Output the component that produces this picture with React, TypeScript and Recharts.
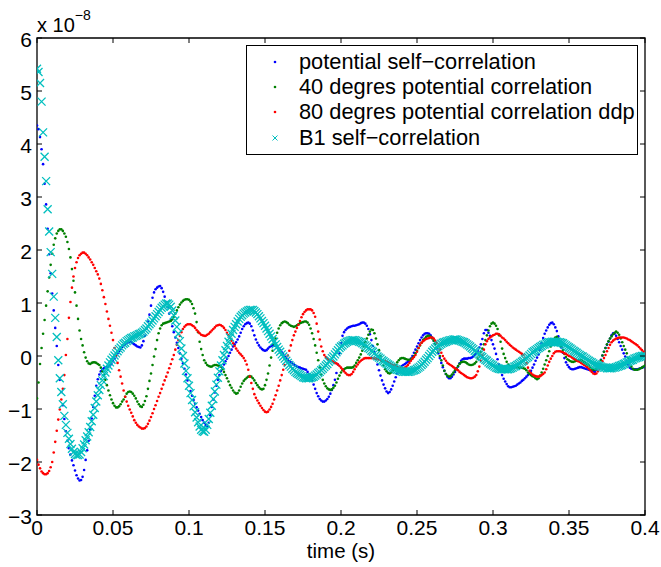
import React from "react";
import { ScatterChart, Scatter, XAxis, YAxis, Legend, ReferenceArea } from "recharts";

// sampling step of every series, in seconds
const SAMPLE_DT = 0.001;

const X_TICKS = [0, 0.05, 0.1, 0.15, 0.2, 0.25, 0.3, 0.35, 0.4];
const X_TICK_LABELS = ["0", "0.05", "0.1", "0.15", "0.2", "0.25", "0.3", "0.35", "0.4"];
const Y_TICKS = [-3, -2, -1, 0, 1, 2, 3, 4, 5, 6];
const Y_TICK_LABELS = ["\u22123", "\u22122", "\u22121", "0", "1", "2", "3", "4", "5", "6"];

const SERIES_NAMES = [
    "potential self\u2212correlation",
    "40 degres potential correlation",
    "80 degres potential correlation ddp",
    "B1 self\u2212correlation"
];
const COLORS = ["#0000ff", "#008000", "#ff0000", "#00bfbf"];

// values are in units of 1e-8, one per sample
const POTENTIAL_SELF = [
    4.35, 4.28, 4.13, 3.9, 3.62, 3.25, 2.86, 2.4, 1.92, 1.56,
    1.18, 0.86, 0.53, 0.19, -0.17, -0.45, -0.68, -0.93, -1.19, -1.42,
    -1.6, -1.74, -1.86, -1.97, -2.06, -2.16, -2.25, -2.31, -2.35, -2.34,
    -2.28, -2.15, -1.96, -1.78, -1.6, -1.39, -1.18, -0.96, -0.75, -0.56,
    -0.44, -0.35, -0.29, -0.25, -0.23, -0.22, -0.21, -0.2, -0.18, -0.15,
    -0.1, -0.05, 0, 0.05, 0.09, 0.13, 0.17, 0.2, 0.23, 0.25,
    0.26, 0.27, 0.26, 0.24, 0.22, 0.2, 0.18, 0.17, 0.16, 0.2,
    0.28, 0.38, 0.52, 0.65, 0.78, 0.95, 1.1, 1.2, 1.26, 1.29,
    1.31, 1.32, 1.28, 1.21, 1.12, 1.02, 0.92, 0.8, 0.68, 0.56,
    0.45, 0.35, 0.25, 0.15, 0.05, -0.05, -0.14, -0.24, -0.35, -0.46,
    -0.56, -0.66, -0.75, -0.83, -0.9, -0.97, -1.03, -1.09, -1.15, -1.21,
    -1.26, -1.3, -1.32, -1.26, -1.12, -0.96, -0.82, -0.69, -0.56, -0.45,
    -0.36, -0.28, -0.22, -0.16, -0.1, -0.05, 0, 0.06, 0.12, 0.18,
    0.22, 0.26, 0.31, 0.37, 0.44, 0.51, 0.56, 0.6, 0.62, 0.63,
    0.61, 0.56, 0.48, 0.39, 0.31, 0.25, 0.2, 0.16, 0.13, 0.11,
    0.1, 0.11, 0.14, 0.17, 0.19, 0.2, 0.2, 0.19, 0.17, 0.14,
    0.11, 0.07, 0.03, -0.01, -0.04, -0.07, -0.1, -0.12, -0.14, -0.16,
    -0.18, -0.2, -0.21, -0.22, -0.23, -0.24, -0.25, -0.26, -0.3, -0.35,
    -0.4, -0.46, -0.54, -0.62, -0.7, -0.76, -0.81, -0.84, -0.86, -0.86,
    -0.84, -0.81, -0.77, -0.71, -0.64, -0.55, -0.45, -0.32, -0.16, 0.05,
    0.24, 0.38, 0.45, 0.49, 0.52, 0.54, 0.55, 0.56, 0.57, 0.57,
    0.58, 0.59, 0.6, 0.62, 0.63, 0.63, 0.61, 0.57, 0.51, 0.41,
    0.3, 0.19, 0.07, -0.05, -0.16, -0.27, -0.37, -0.46, -0.54, -0.61,
    -0.67, -0.7, -0.68, -0.63, -0.56, -0.48, -0.4, -0.33, -0.28, -0.23,
    -0.19, -0.17, -0.15, -0.13, -0.11, -0.09, -0.05, 0, 0.06, 0.12,
    0.18, 0.24, 0.3, 0.35, 0.39, 0.42, 0.43, 0.43, 0.42, 0.39,
    0.35, 0.29, 0.22, 0.14, 0.05, -0.04, -0.13, -0.21, -0.28, -0.34,
    -0.39, -0.42, -0.42, -0.39, -0.35, -0.3, -0.25, -0.2, -0.14, -0.09,
    -0.06, -0.05, -0.05, -0.05, -0.04, -0.04, -0.03, -0.01, 0.02, 0.05,
    0.1, 0.16, 0.22, 0.32, 0.43, 0.49, 0.49, 0.44, 0.38, 0.3,
    0.22, 0.14, 0.04, -0.06, -0.16, -0.27, -0.36, -0.43, -0.48, -0.53,
    -0.57, -0.59, -0.59, -0.58, -0.57, -0.56, -0.54, -0.52, -0.5, -0.47,
    -0.45, -0.42, -0.39, -0.36, -0.33, -0.28, -0.22, -0.16, -0.09, -0.03,
    0.03, 0.12, 0.24, 0.34, 0.42, 0.48, 0.54, 0.59, 0.62, 0.63,
    0.6, 0.54, 0.47, 0.37, 0.27, 0.16, 0.06, -0.04, -0.12, -0.17,
    -0.21, -0.24, -0.25, -0.25, -0.24, -0.23, -0.22, -0.21, -0.21, -0.22,
    -0.23, -0.24, -0.25, -0.26, -0.27, -0.28, -0.29, -0.3, -0.26, -0.2,
    -0.15, -0.07, 0.01, 0.08, 0.15, 0.21, 0.27, 0.33, 0.39, 0.43,
    0.42, 0.38, 0.32, 0.26, 0.19, 0.12, 0.05, -0.01, -0.09, -0.16,
    -0.22, -0.24, -0.25, -0.25, -0.25, -0.25, -0.24, -0.23, -0.22, -0.21,
    -0.2
];

const CORR_40 = [
    -0.8, -0.5, -0.15, 0.15, 0.42, 0.68, 0.95, 1.22, 1.48, 1.72,
    1.93, 2.1, 2.22, 2.31, 2.36, 2.39, 2.39, 2.36, 2.31, 2.25,
    2.15, 2.02, 1.86, 1.64, 1.42, 1.2, 0.95, 0.7, 0.48, 0.32,
    0.2, 0.07, -0.03, -0.1, -0.14, -0.15, -0.13, -0.12, -0.12, -0.13,
    -0.15, -0.17, -0.22, -0.29, -0.36, -0.45, -0.55, -0.65, -0.74, -0.82,
    -0.89, -0.94, -0.97, -0.97, -0.95, -0.91, -0.86, -0.82, -0.77, -0.71,
    -0.68, -0.67, -0.68, -0.71, -0.75, -0.8, -0.86, -0.91, -0.95, -0.96,
    -0.92, -0.85, -0.76, -0.62, -0.47, -0.33, -0.17, -0.01, 0.13, 0.3,
    0.43, 0.52, 0.58, 0.61, 0.62, 0.63, 0.64, 0.65, 0.66, 0.69,
    0.74, 0.8, 0.86, 0.92, 0.97, 1.01, 1.04, 1.06, 1.07, 1.07,
    1.06, 1.03, 0.98, 0.9, 0.8, 0.64, 0.45, 0.27, 0.13, 0.02,
    -0.08, -0.13, -0.17, -0.19, -0.2, -0.2, -0.18, -0.17, -0.17, -0.18,
    -0.19, -0.2, -0.25, -0.3, -0.36, -0.42, -0.48, -0.55, -0.6, -0.65,
    -0.69, -0.71, -0.7, -0.65, -0.58, -0.52, -0.47, -0.44, -0.41, -0.39,
    -0.38, -0.39, -0.42, -0.46, -0.51, -0.55, -0.59, -0.62, -0.63, -0.62,
    -0.55, -0.45, -0.33, -0.18, -0.03, 0.1, 0.22, 0.33, 0.44, 0.52,
    0.58, 0.62, 0.64, 0.65, 0.64, 0.62, 0.59, 0.57, 0.56, 0.55,
    0.56, 0.58, 0.6, 0.62, 0.63, 0.64, 0.65, 0.65, 0.63, 0.59,
    0.52, 0.43, 0.32, 0.2, 0.06, -0.08, -0.22, -0.35, -0.45, -0.52,
    -0.57, -0.61, -0.63, -0.64, -0.63, -0.6, -0.56, -0.5, -0.43, -0.37,
    -0.31, -0.27, -0.25, -0.23, -0.22, -0.22, -0.22, -0.22, -0.21, -0.18,
    -0.13, -0.08, -0.03, 0.03, 0.1, 0.18, 0.26, 0.33, 0.4, 0.46,
    0.5, 0.49, 0.43, 0.33, 0.22, 0.11, 0, -0.1, -0.18, -0.25,
    -0.29, -0.32, -0.33, -0.31, -0.27, -0.22, -0.17, -0.12, -0.08, -0.05,
    -0.04, -0.04, -0.05, -0.06, -0.07, -0.07, -0.06, -0.04, 0, 0.05,
    0.1, 0.15, 0.2, 0.25, 0.3, 0.33, 0.36, 0.38, 0.38, 0.36,
    0.33, 0.29, 0.23, 0.16, 0.08, 0, -0.08, -0.18, -0.28, -0.34,
    -0.37, -0.39, -0.38, -0.35, -0.31, -0.27, -0.23, -0.19, -0.15, -0.12,
    -0.11, -0.11, -0.12, -0.14, -0.16, -0.17, -0.17, -0.16, -0.14, -0.11,
    -0.05, 0.01, 0.07, 0.14, 0.22, 0.3, 0.39, 0.48, 0.56, 0.61,
    0.63, 0.61, 0.57, 0.51, 0.39, 0.27, 0.14, 0.04, -0.04, -0.11,
    -0.16, -0.19, -0.2, -0.2, -0.21, -0.21, -0.21, -0.22, -0.22, -0.22,
    -0.23, -0.24, -0.27, -0.31, -0.34, -0.36, -0.38, -0.39, -0.42, -0.44,
    -0.42, -0.37, -0.31, -0.24, -0.16, -0.08, 0, 0.09, 0.18, 0.26,
    0.31, 0.35, 0.36, 0.33, 0.27, 0.18, 0.11, 0.04, -0.02, -0.06,
    -0.08, -0.1, -0.11, -0.11, -0.1, -0.09, -0.08, -0.08, -0.08, -0.1,
    -0.12, -0.14, -0.16, -0.18, -0.21, -0.24, -0.26, -0.26, -0.24, -0.2,
    -0.17, -0.08, 0.01, 0.08, 0.15, 0.22, 0.28, 0.33, 0.37, 0.41,
    0.44, 0.46, 0.44, 0.4, 0.33, 0.26, 0.19, 0.12, 0.05, -0.04,
    -0.12, -0.2, -0.24, -0.26, -0.26, -0.26, -0.25, -0.23, -0.22, -0.2,
    -0.18
];

const CORR_80_DDP = [
    -1.96, -2.05, -2.12, -2.18, -2.21, -2.23, -2.23, -2.21, -2.17, -2.1,
    -2.0, -1.82, -1.62, -1.41, -1.2, -1.01, -0.82, -0.62, -0.36, 0.02,
    0.32, 0.72, 1.02, 1.29, 1.5, 1.66, 1.77, 1.85, 1.9, 1.93,
    1.95, 1.95, 1.93, 1.9, 1.86, 1.82, 1.77, 1.72, 1.66, 1.6,
    1.54, 1.46, 1.36, 1.24, 1.11, 0.98, 0.84, 0.7, 0.57, 0.44,
    0.3, 0.15, 0.01, -0.13, -0.27, -0.39, -0.52, -0.65, -0.77, -0.86,
    -0.94, -1.01, -1.07, -1.14, -1.21, -1.26, -1.3, -1.33, -1.35, -1.37,
    -1.37, -1.36, -1.33, -1.28, -1.22, -1.15, -1.08, -1.0, -0.93, -0.85,
    -0.77, -0.7, -0.62, -0.54, -0.46, -0.39, -0.31, -0.23, -0.15, -0.06,
    0.02, 0.12, 0.21, 0.3, 0.38, 0.45, 0.51, 0.55, 0.58, 0.6,
    0.6, 0.6, 0.58, 0.56, 0.53, 0.49, 0.46, 0.43, 0.4, 0.39,
    0.38, 0.38, 0.4, 0.42, 0.45, 0.48, 0.51, 0.54, 0.57, 0.58,
    0.59, 0.58, 0.56, 0.53, 0.49, 0.44, 0.39, 0.34, 0.29, 0.24,
    0.19, 0.14, 0.1, 0.06, 0.03, 0, -0.04, -0.09, -0.16, -0.26,
    -0.39, -0.51, -0.62, -0.72, -0.79, -0.84, -0.89, -0.94, -0.98, -1.02,
    -1.05, -1.06, -1.05, -1.01, -0.96, -0.9, -0.82, -0.74, -0.65, -0.56,
    -0.46, -0.36, -0.26, -0.17, -0.08, 0.01, 0.1, 0.2, 0.3, 0.39,
    0.46, 0.53, 0.59, 0.66, 0.73, 0.79, 0.83, 0.86, 0.88, 0.88,
    0.88, 0.86, 0.81, 0.74, 0.61, 0.46, 0.31, 0.18, 0.09, 0.02,
    -0.02, -0.05, -0.07, -0.08, -0.1, -0.11, -0.13, -0.14, -0.16, -0.19,
    -0.22, -0.25, -0.29, -0.32, -0.35, -0.36, -0.36, -0.34, -0.3, -0.25,
    -0.2, -0.16, -0.12, -0.09, -0.07, -0.05, -0.04, -0.04, -0.04, -0.04,
    -0.04, -0.04, -0.05, -0.05, -0.06, -0.06, -0.07, -0.08, -0.09, -0.1,
    -0.11, -0.12, -0.14, -0.15, -0.17, -0.18, -0.2, -0.21, -0.22, -0.23,
    -0.23, -0.23, -0.22, -0.2, -0.17, -0.13, -0.09, -0.05, -0.02, 0.02,
    0.08, 0.15, 0.21, 0.25, 0.28, 0.3, 0.32, 0.33, 0.34, 0.35,
    0.35, 0.33, 0.29, 0.25, 0.19, 0.12, 0.06, 0, -0.05, -0.09,
    -0.13, -0.15, -0.17, -0.19, -0.21, -0.23, -0.25, -0.27, -0.3, -0.32,
    -0.34, -0.36, -0.38, -0.4, -0.41, -0.42, -0.42, -0.41, -0.39, -0.36,
    -0.29, -0.2, -0.09, 0.02, 0.12, 0.22, 0.28, 0.32, 0.35, 0.37,
    0.39, 0.4, 0.42, 0.42, 0.41, 0.38, 0.35, 0.33, 0.3, 0.27,
    0.24, 0.21, 0.19, 0.16, 0.14, 0.12, 0.1, 0.08, 0.06, 0.04,
    0.02, -0.05, -0.14, -0.22, -0.28, -0.32, -0.35, -0.37, -0.38, -0.39,
    -0.39, -0.38, -0.36, -0.34, -0.31, -0.25, -0.18, -0.11, -0.05, 0,
    0.05, 0.08, 0.09, 0.09, 0.09, 0.08, 0.07, 0.05, 0.04, 0.02,
    0, -0.01, -0.03, -0.05, -0.06, -0.08, -0.1, -0.11, -0.13, -0.15,
    -0.17, -0.19, -0.21, -0.24, -0.27, -0.3, -0.33, -0.34, -0.33, -0.29,
    -0.24, -0.17, -0.1, -0.04, 0.02, 0.09, 0.15, 0.21, 0.26, 0.29,
    0.31, 0.33, 0.34, 0.35, 0.35, 0.35, 0.35, 0.34, 0.33, 0.31,
    0.3, 0.28, 0.26, 0.24, 0.22, 0.2, 0.17, 0.14, 0.11, 0.08,
    0.05
];

const B1_SELF = [
    5.42, 5.36, 5.15, 4.8, 4.22, 3.76, 3.3, 2.77, 2.35, 1.96,
    1.55, 1.12, 0.72, 0.36, -0.08, -0.42, -0.68, -0.91, -1.13, -1.3,
    -1.45, -1.56, -1.66, -1.75, -1.81, -1.85, -1.87, -1.87, -1.86, -1.81,
    -1.74, -1.67, -1.59, -1.52, -1.44, -1.34, -1.23, -1.11, -0.98, -0.86,
    -0.74, -0.64, -0.55, -0.46, -0.38, -0.31, -0.24, -0.18, -0.12, -0.07,
    -0.03, 0.01, 0.05, 0.09, 0.13, 0.16, 0.2, 0.23, 0.25, 0.28,
    0.3, 0.32, 0.34, 0.35, 0.37, 0.38, 0.39, 0.41, 0.42, 0.44,
    0.46, 0.49, 0.52, 0.56, 0.6, 0.63, 0.67, 0.71, 0.75, 0.79,
    0.83, 0.87, 0.91, 0.94, 0.97, 0.99, 0.99, 0.97, 0.93, 0.86,
    0.77, 0.67, 0.55, 0.42, 0.28, 0.14, 0, -0.14, -0.28, -0.42,
    -0.56, -0.7, -0.83, -0.95, -1.06, -1.16, -1.25, -1.33, -1.39, -1.42,
    -1.43, -1.39, -1.3, -1.19, -1.07, -0.94, -0.81, -0.67, -0.54, -0.41,
    -0.29, -0.18, -0.08, 0.02, 0.11, 0.19, 0.27, 0.35, 0.42, 0.49,
    0.55, 0.6, 0.65, 0.7, 0.74, 0.77, 0.8, 0.82, 0.84, 0.86,
    0.87, 0.87, 0.87, 0.85, 0.82, 0.79, 0.75, 0.71, 0.66, 0.62,
    0.57, 0.52, 0.47, 0.42, 0.37, 0.32, 0.27, 0.22, 0.17, 0.12,
    0.08, 0.03, -0.01, -0.05, -0.09, -0.13, -0.17, -0.2, -0.24, -0.27,
    -0.3, -0.32, -0.34, -0.36, -0.38, -0.4, -0.41, -0.42, -0.42, -0.42,
    -0.41, -0.4, -0.39, -0.37, -0.35, -0.32, -0.3, -0.27, -0.24, -0.21,
    -0.18, -0.15, -0.11, -0.08, -0.04, -0.01, 0.03, 0.07, 0.11, 0.15,
    0.18, 0.2, 0.23, 0.25, 0.27, 0.28, 0.29, 0.3, 0.3, 0.3,
    0.29, 0.28, 0.27, 0.26, 0.24, 0.22, 0.2, 0.18, 0.15, 0.13,
    0.1, 0.08, 0.05, 0.02, -0.01, -0.03, -0.05, -0.08, -0.1, -0.12,
    -0.14, -0.16, -0.18, -0.2, -0.22, -0.23, -0.25, -0.26, -0.27, -0.28,
    -0.29, -0.3, -0.3, -0.3, -0.3, -0.3, -0.29, -0.28, -0.27, -0.26,
    -0.24, -0.22, -0.2, -0.17, -0.14, -0.11, -0.07, -0.04, 0, 0.04,
    0.08, 0.11, 0.14, 0.17, 0.19, 0.21, 0.23, 0.25, 0.26, 0.27,
    0.28, 0.29, 0.3, 0.3, 0.31, 0.31, 0.31, 0.3, 0.29, 0.28,
    0.27, 0.26, 0.24, 0.22, 0.2, 0.18, 0.15, 0.13, 0.1, 0.08,
    0.05, 0.03, 0, -0.02, -0.05, -0.07, -0.09, -0.12, -0.14, -0.16,
    -0.18, -0.2, -0.22, -0.23, -0.24, -0.25, -0.25, -0.25, -0.25, -0.25,
    -0.25, -0.24, -0.23, -0.22, -0.2, -0.19, -0.17, -0.15, -0.13, -0.11,
    -0.09, -0.06, -0.04, -0.02, 0.01, 0.04, 0.07, 0.09, 0.11, 0.13,
    0.15, 0.17, 0.19, 0.21, 0.22, 0.24, 0.25, 0.26, 0.26, 0.27,
    0.27, 0.27, 0.27, 0.26, 0.26, 0.25, 0.24, 0.22, 0.2, 0.18,
    0.16, 0.14, 0.12, 0.1, 0.08, 0.06, 0.04, 0.02, 0, -0.01,
    -0.03, -0.05, -0.07, -0.09, -0.11, -0.12, -0.14, -0.16, -0.17, -0.18,
    -0.19, -0.2, -0.21, -0.22, -0.22, -0.23, -0.23, -0.23, -0.23, -0.22,
    -0.22, -0.21, -0.2, -0.19, -0.18, -0.17, -0.15, -0.14, -0.12, -0.11,
    -0.09, -0.08, -0.07, -0.05, -0.04, -0.03, -0.02, -0.01, 0, 0,
    0.01
];

const FONT = '"Liberation Sans", Arial, Helvetica, sans-serif';
const TICK_LEN = 5;

const toPoints = (vals: number[]) => vals.map((v, i) => ({ t: i * SAMPLE_DT, v }));

const labelFor = (ticks: number[], labels: string[], value: number) => {
    const i = ticks.findIndex((t) => Math.abs(t - value) < 1e-9);
    return i >= 0 ? labels[i] : "";
};

const BottomTick = (props: any) => {
    const { x, y, payload } = props;
    return (
        <g>
            <line x1={x} x2={x} y1={y} y2={y - TICK_LEN} stroke="#000" strokeWidth={1} />
            <text x={x} y={y + 20} textAnchor="middle" fontSize={21} fontFamily={FONT} fill="#000">
                {labelFor(X_TICKS, X_TICK_LABELS, payload.value)}
            </text>
        </g>
    );
};

const TopTick = (props: any) => {
    const { x, y } = props;
    return <line x1={x} x2={x} y1={y} y2={y + TICK_LEN} stroke="#000" strokeWidth={1} />;
};

const LeftTick = (props: any) => {
    const { x, y, payload } = props;
    return (
        <g>
            <line x1={x} x2={x + TICK_LEN} y1={y} y2={y} stroke="#000" strokeWidth={1} />
            <text x={x - 5} y={y + 9} textAnchor="end" fontSize={21} fontFamily={FONT} fill="#000">
                {labelFor(Y_TICKS, Y_TICK_LABELS, payload.value)}
            </text>
        </g>
    );
};

const RightTick = (props: any) => {
    const { x, y } = props;
    return <line x1={x} x2={x - TICK_LEN} y1={y} y2={y} stroke="#000" strokeWidth={1} />;
};

const dotShape = (color: string) => (p: any) => <circle cx={p.cx} cy={p.cy} r={1.3} fill={color} />;

const crossShape = (color: string, h: number) => (p: any) => (
    <path
        d={`M${p.cx - h},${p.cy - h}L${p.cx + h},${p.cy + h}M${p.cx - h},${p.cy + h}L${p.cx + h},${p.cy - h}`}
        stroke={color}
        strokeWidth={1.3}
        fill="none"
    />
);

const LegendBox = () => (
    <div
        style={{
            border: "1.3px solid #000",
            background: "#fff",
            padding: "3px 0",
            width: 392,
            boxSizing: "border-box",
            fontFamily: FONT,
            fontSize: 21.8,
            color: "#000"
        }}>
        {SERIES_NAMES.map((name, i) => (
            <div key={name} style={{ display: "flex", alignItems: "center", height: 25.4, whiteSpace: "nowrap" }}>
                <svg width={52} height={20} style={{ flex: "none" }}>
                    {i < 3 ? (
                        <circle cx={28} cy={10} r={1.3} fill={COLORS[i]} />
                    ) : (
                        <path d="M25.5,7.5L30.5,12.5M25.5,12.5L30.5,7.5" stroke={COLORS[i]} strokeWidth={1} />
                    )}
                </svg>
                <span>{name}</span>
            </div>
        ))}
    </div>
);

const App = () => {
    return (
        <div style={{ position: "absolute", left: 0, top: 0, fontFamily: FONT }}>
            <ScatterChart width={661} height={567} margin={{ top: 37, right: 15, bottom: 0, left: 0 }}>
                <XAxis
                    type="number"
                    dataKey="t"
                    domain={[0, 0.4]}
                    ticks={X_TICKS}
                    interval={0}
                    height={52}
                    tickSize={0}
                    tickMargin={0}
                    tickLine={false}
                    axisLine={false}
                    tick={BottomTick}
                    allowDataOverflow
                    label={{
                        value: "time (s)",
                        position: "insideBottom",
                        offset: 9,
                        fill: "#000",
                        fontSize: 20.5,
                        fontFamily: FONT
                    }}
                />
                <XAxis
                    xAxisId="top"
                    orientation="top"
                    type="number"
                    dataKey="t"
                    domain={[0, 0.4]}
                    ticks={X_TICKS}
                    interval={0}
                    height={1}
                    tickSize={0}
                    tickMargin={0}
                    tickLine={false}
                    axisLine={false}
                    tick={TopTick}
                    allowDataOverflow
                />
                <YAxis
                    type="number"
                    dataKey="v"
                    domain={[-3, 6]}
                    ticks={Y_TICKS}
                    interval={0}
                    width={37}
                    tickSize={0}
                    tickMargin={0}
                    tickLine={false}
                    axisLine={false}
                    tick={LeftTick}
                    allowDataOverflow
                />
                <YAxis
                    yAxisId="right"
                    orientation="right"
                    type="number"
                    dataKey="v"
                    domain={[-3, 6]}
                    ticks={Y_TICKS}
                    interval={0}
                    width={1}
                    tickSize={0}
                    tickMargin={0}
                    tickLine={false}
                    axisLine={false}
                    tick={RightTick}
                    allowDataOverflow
                />
                <ReferenceArea
                    x1={0}
                    x2={0.4}
                    y1={-3}
                    y2={6}
                    fill="none"
                    fillOpacity={0}
                    stroke="#000"
                    strokeWidth={1.3}
                    ifOverflow="extendDomain"
                />
                <Scatter name={SERIES_NAMES[0]} data={toPoints(POTENTIAL_SELF)} shape={dotShape(COLORS[0])} isAnimationActive={false} />
                <Scatter name={SERIES_NAMES[1]} data={toPoints(CORR_40)} shape={dotShape(COLORS[1])} isAnimationActive={false} />
                <Scatter name={SERIES_NAMES[2]} data={toPoints(CORR_80_DDP)} shape={dotShape(COLORS[2])} isAnimationActive={false} />
                <Scatter name={SERIES_NAMES[3]} data={toPoints(B1_SELF)} shape={crossShape(COLORS[3], 4)} isAnimationActive={false} />
                <Legend
                    layout="vertical"
                    verticalAlign="middle"
                    align="center"
                    wrapperStyle={{ left: 246, top: 45, width: 392 }}
                    content={LegendBox}
                />
            </ScatterChart>
            <svg width={120} height={36} style={{ position: "absolute", left: 0, top: 0 }}>
                <text x={37} y={32} fontSize={20} fontFamily={FONT} fill="#000">
                    x 10
                    <tspan dy={-12} fontSize={14}>
                        {"\u22128"}
                    </tspan>
                </text>
            </svg>
        </div>
    );
};

export default App;
